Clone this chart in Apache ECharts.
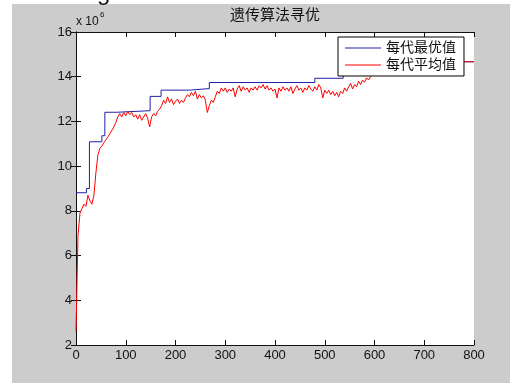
<!DOCTYPE html>
<html>
<head>
<meta charset="utf-8">
<script src="https://cdn.jsdelivr.net/npm/echarts@6/dist/echarts.min.js"></script>
<style>
  html, body { margin: 0; padding: 0; background: #fff; }
  #chart { width: 510px; height: 383px; }
</style>
</head>
<body>
<div id="chart"></div>
<script>
// GA optimisation history (fitness in units of 10^6)
const titleText = '遗传算法寻优';
const seriesNames = ['每代最优值', '每代平均值'];

// best-so-far fitness: [generation where the value starts, value]
const bestGen = [0, 21, 27, 52, 58, 82, 149, 171, 229, 268, 480, 537, 600, 800];
const bestValue = [8.81, 9.0, 11.09, 11.36, 12.41, 12.48, 13.12, 13.40, 13.47, 13.74, 13.93, 14.3, 14.67, 14.67];

// population mean fitness, sampled every AVG_STEP generations from 0
const AVG_STEP = 4;
const avgValue = [
  2.6, 6.9, 7.9, 8.1, 8.3, 8.2, 8.7, 8.45, 8.3, 8.7,
  9.7, 10.5, 10.8, 10.9, 11.05, 11.0, 11.3, 11.45, 11.5, 11.75,
  11.95, 12.2, 12.35, 12.2, 12.4, 12.25, 12.45, 12.3, 12.4, 12.2,
  12.3, 12.1, 12.3, 12.05, 12.2, 12.35, 12.15, 11.75, 12.2, 12.35,
  12.25, 12.45, 12.55, 12.7, 12.95, 12.8, 13.1, 12.85, 13.0, 12.75,
  12.9, 13.0, 12.8, 12.95, 12.85, 13.05, 13.2, 13.1, 13.3, 13.15,
  13.35, 13.0, 13.2, 13.05, 13.15, 12.95, 12.4, 12.7, 12.95, 12.85,
  13.1, 13.35, 13.25, 13.5, 13.35, 13.5, 13.3, 13.45, 13.35, 13.5,
  13.1, 13.45, 13.6, 13.35, 13.55, 13.4, 13.5, 13.3, 13.5, 13.4,
  13.55, 13.4, 13.6, 13.5, 13.65, 13.45, 13.6, 13.4, 13.5, 13.35,
  13.45, 13.05, 13.5, 13.35, 13.55, 13.4, 13.5, 13.35, 13.55, 13.25,
  13.45, 13.6, 13.4, 13.5, 13.3, 13.5, 13.4, 13.6, 13.45, 13.35,
  13.55, 13.4, 13.65, 13.5, 13.05, 13.4, 13.25, 13.4, 13.2, 13.35,
  13.15, 13.3, 13.1, 13.35, 13.25, 13.5, 13.35, 13.55, 13.7, 13.45,
  13.65, 13.55, 13.8, 13.65, 13.85, 13.75, 13.95, 13.85, 14.0, 14.05,
  14.15, 14.2, 14.3, 14.35, 14.45, 14.5, 14.55, 14.6, 14.62, 14.65,
  14.67, 14.67, 14.67, 14.67, 14.67, 14.67, 14.67, 14.67, 14.67, 14.67,
  14.67, 14.67, 14.67, 14.67, 14.67, 14.67, 14.67, 14.67, 14.67, 14.67,
  14.67, 14.67, 14.67, 14.67, 14.67, 14.67, 14.67, 14.67, 14.67, 14.67,
  14.67, 14.67, 14.67, 14.67, 14.67, 14.67, 14.67, 14.67, 14.67, 14.67,
  14.67
];

// axis ranges
const xMin = 0, xMax = 800, xStep = 100;
const yMin = 2, yMax = 16, yStep = 2;
const yExponentBase = 'x 10', yExponent = '6';

const FONT = '"Liberation Sans", Arial, "Noto Sans CJK SC", sans-serif';
const BLUE = '#2020a8';
const RED = '#ff0000';
const INK = '#111';

const bestData = bestGen.map((g, i) => [g, bestValue[i]]);
const avgData = avgValue.map((v, i) => [i * AVG_STEP, v]);

const chart = echarts.init(document.getElementById('chart'), null, { renderer: 'canvas' });

const tickStyle = { show: true, inside: true, length: 5, lineStyle: { color: INK, width: 1 } };
const lineStyleAxis = { show: true, lineStyle: { color: INK, width: 1 } };

chart.setOption({
  animation: false,
  backgroundColor: '#cccccc',
  title: {
    text: titleText,
    left: 275,
    top: 8,
    padding: 0,
    textAlign: 'center',
    textStyle: { fontFamily: FONT, fontSize: 15, fontWeight: 'normal', color: INK }
  },
  legend: {
    data: seriesNames,
    orient: 'vertical',
    left: 338,
    top: 37,
    padding: [4, 8, 4, 7],
    itemGap: 3,
    itemWidth: 36,
    itemHeight: 1,
    icon: 'rect',
    backgroundColor: '#ffffff',
    borderColor: '#000',
    borderWidth: 1,
    borderRadius: 0,
    textStyle: { fontFamily: FONT, fontSize: 14, color: INK, padding: [0, 0, 0, 0] }
  },
  grid: {
    left: 76, top: 32, width: 398, height: 313,
    show: true, backgroundColor: '#ffffff', borderWidth: 0
  },
  xAxis: [
    {
      type: 'value', min: xMin, max: xMax, interval: xStep,
      axisLine: lineStyleAxis, axisTick: tickStyle, splitLine: { show: false },
      axisLabel: { margin: 4, fontFamily: FONT, fontSize: 13, color: INK }
    },
    {
      type: 'value', position: 'top', min: xMin, max: xMax, interval: xStep,
      axisLine: lineStyleAxis, axisTick: tickStyle, splitLine: { show: false },
      axisLabel: { show: false }
    }
  ],
  yAxis: [
    {
      type: 'value', min: yMin, max: yMax, interval: yStep,
      axisLine: lineStyleAxis, axisTick: tickStyle, splitLine: { show: false },
      axisLabel: { margin: 4, fontFamily: FONT, fontSize: 13, color: INK }
    },
    {
      type: 'value', position: 'right', min: yMin, max: yMax, interval: yStep,
      axisLine: lineStyleAxis, axisTick: tickStyle, splitLine: { show: false },
      axisLabel: { show: false }
    }
  ],
  graphic: [
    { type: 'rect', left: 0, top: 0, shape: { width: 12, height: 383 }, style: { fill: '#ffffff' }, silent: true },
    { type: 'rect', left: 0, top: 0, shape: { width: 510, height: 4 }, style: { fill: '#ffffff' }, silent: true },
    {
      type: 'text', x: 97, y: 5, z: 10,
      style: { text: 'g', fontFamily: FONT, fontSize: 24, fill: INK, textVerticalAlign: 'bottom' }
    },
    {
      type: 'text', x: 76, y: 22,
      style: { text: yExponentBase, fontFamily: FONT, fontSize: 12, fill: INK, textVerticalAlign: 'middle' }
    },
    {
      type: 'text', x: 100, y: 15,
      style: { text: yExponent, fontFamily: FONT, fontSize: 8, fill: INK, textVerticalAlign: 'middle' }
    }
  ],
  series: [
    {
      name: seriesNames[0],
      type: 'line',
      step: 'end',
      data: bestData,
      symbol: 'none',
      color: BLUE,
      lineStyle: { color: BLUE, width: 1 },
      z: 2
    },
    {
      name: seriesNames[1],
      type: 'line',
      data: avgData,
      symbol: 'none',
      color: RED,
      lineStyle: { color: RED, width: 1 },
      z: 3
    }
  ]
});
</script>
</body>
</html>
